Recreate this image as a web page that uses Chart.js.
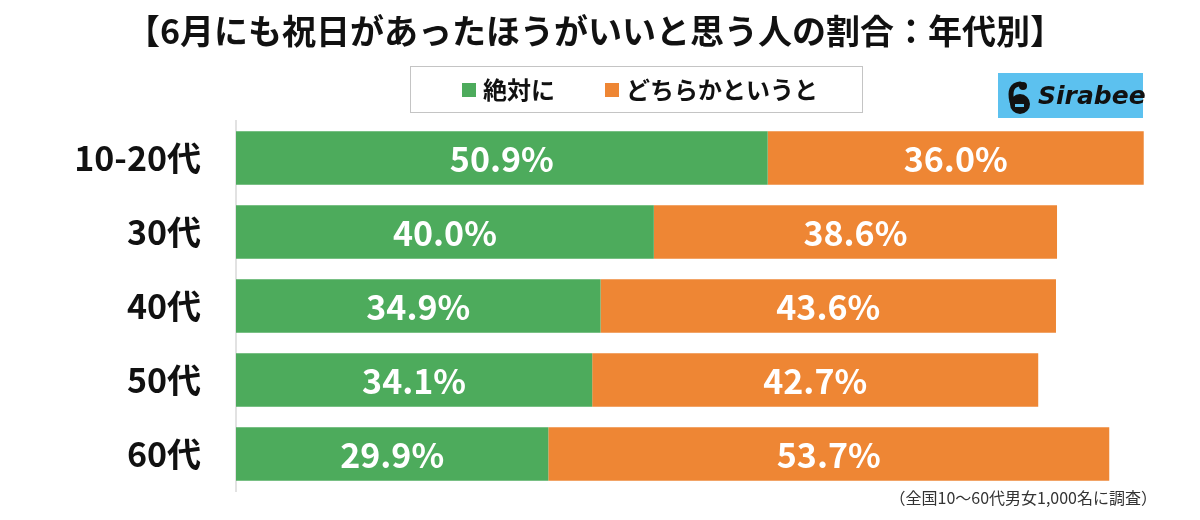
<!DOCTYPE html>
<html>
<head>
<meta charset="utf-8">
<script src="https://cdn.jsdelivr.net/npm/chart.js@4"></script>
<style>
  html, body { margin: 0; padding: 0; background: #fff; }
  #wrap { width: 1200px; height: 520px; }
</style>
</head>
<body>
<div id="wrap"><canvas id="ageChart" width="1200" height="520"></canvas></div>
<script>
// chart data
const titleText = '【6月にも祝日があったほうがいいと思う人の割合：年代別】';
const noteText = '（全国10～60代男女1,000名に調査）';
const ageGroups = ['10-20代', '30代', '40代', '50代', '60代'];
const definitelyValues = [50.9, 40.0, 34.9, 34.1, 29.9];
const somewhatValues = [36.0, 38.6, 43.6, 42.7, 53.7];
const seriesNames = ['絶対に', 'どちらかというと'];

const GREEN = '#4dab5c';
const ORANGE = '#ee8634';
const FONT = '"Noto Sans CJK JP", "Noto Sans", sans-serif';

// title, legend box, logo and footnote
const decorPlugin = {
  id: 'decor',
  afterDraw(chart) {
    const ctx = chart.ctx;
    ctx.save();

    // title
    ctx.fillStyle = '#111';
    ctx.font = 'bold 34px ' + FONT;
    ctx.textAlign = 'center';
    ctx.textBaseline = 'middle';
    ctx.fillText(titleText, 595, 31);

    // legend box
    ctx.strokeStyle = '#888';
    ctx.lineWidth = 1;
    ctx.setLineDash([1, 1]);
    ctx.strokeRect(410.5, 66.5, 452, 46);
    ctx.setLineDash([]);
    const items = [{ x: 462, text: seriesNames[0] }, { x: 605, text: seriesNames[1] }];
    ctx.font = 'bold 24px ' + FONT;
    ctx.textAlign = 'left';
    items.forEach((it, i) => {
      ctx.fillStyle = chart.data.datasets[i].backgroundColor;
      ctx.fillRect(it.x, 83, 14, 14);
      ctx.fillStyle = '#111';
      ctx.fillText(it.text, it.x + 21, 90);
    });

    // logo
    ctx.fillStyle = '#5cc1ef';
    ctx.fillRect(998, 73, 145, 45);
    ctx.fillStyle = '#111';
    ctx.beginPath();
    ctx.arc(1020, 104, 10, 0, Math.PI * 2);
    ctx.fill();
    ctx.strokeStyle = '#111';
    ctx.lineWidth = 5;
    ctx.lineCap = 'round';
    ctx.beginPath();
    ctx.moveTo(1012, 102);
    ctx.quadraticCurveTo(1008, 85, 1020, 84);
    ctx.stroke();
    ctx.beginPath();
    ctx.arc(1023, 86, 4, 0, Math.PI * 2);
    ctx.fill();
    ctx.fillStyle = '#5cc1ef';
    ctx.fillRect(1015, 104, 9, 3);
    ctx.fillStyle = '#111';
    ctx.font = 'italic bold 25px "DejaVu Sans", sans-serif';
    ctx.textBaseline = 'middle';
    ctx.fillText('Sirabee', 1038, 97);

    // footnote
    ctx.fillStyle = '#333';
    ctx.font = '16px ' + FONT;
    ctx.textAlign = 'right';
    ctx.fillText(noteText, 1157, 498);

    ctx.restore();
  }
};

// white value labels inside each bar segment
const valueLabelPlugin = {
  id: 'valueLabels',
  afterDatasetsDraw(chart) {
    const ctx = chart.ctx;
    ctx.save();
    ctx.fillStyle = '#fff';
    ctx.font = 'bold 34px ' + FONT;
    ctx.textAlign = 'center';
    ctx.textBaseline = 'middle';
    chart.data.datasets.forEach((ds, di) => {
      chart.getDatasetMeta(di).data.forEach((bar, i) => {
        const p = bar.getProps(['x', 'y', 'base'], true);
        ctx.fillText(ds.data[i].toFixed(1) + '%', (p.x + p.base) / 2, p.y + 1);
      });
    });
    ctx.restore();
  }
};

new Chart(document.getElementById('ageChart'), {
  type: 'bar',
  data: {
    labels: ageGroups,
    datasets: [
      { label: seriesNames[0], data: definitelyValues, backgroundColor: GREEN },
      { label: seriesNames[1], data: somewhatValues, backgroundColor: ORANGE }
    ]
  },
  options: {
    indexAxis: 'y',
    responsive: false,
    animation: false,
    layout: { padding: { top: 121, right: 3, bottom: 29, left: 0 } },
    datasets: { bar: { categoryPercentage: 1, barPercentage: 0.72 } },
    scales: {
      x: { stacked: true, min: 0, max: 92, display: false },
      y: {
        stacked: true,
        grid: { display: false },
        border: { display: true, color: '#e2e2e2', width: 2 },
        ticks: {
          color: '#111',
          padding: 27,
          font: { family: FONT, size: 34, weight: 'bold' }
        },
        afterFit(scale) {
          scale.width = 236;
          scale.paddingTop = 0;
          scale.paddingBottom = 0;
        }
      }
    },
    plugins: {
      legend: { display: false },
      title: { display: false },
      tooltip: { enabled: false }
    }
  },
  plugins: [decorPlugin, valueLabelPlugin]
});
</script>
</body>
</html>
